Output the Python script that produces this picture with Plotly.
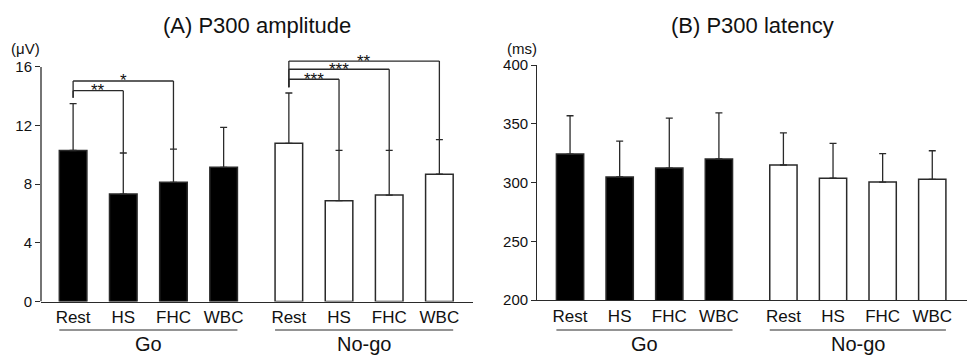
import plotly.graph_objects as go

# ---------------- data ----------------
conditions = ["Rest", "HS", "FHC", "WBC"]
groups = ["Go", "No-go"]

amp_go_mean = [10.3, 7.33, 8.13, 9.15]
amp_go_sd = [3.2, 2.8, 2.27, 2.73]
amp_nogo_mean = [10.79, 6.88, 7.26, 8.68]
amp_nogo_sd = [3.43, 3.43, 3.05, 2.36]

lat_go_mean = [324.2, 304.7, 312.3, 320.0]
lat_go_sd = [32.6, 30.5, 42.5, 39.3]
lat_nogo_mean = [314.9, 303.6, 300.4, 302.7]
lat_nogo_sd = [27.4, 29.7, 24.1, 24.3]

amp_ticks = [0, 4, 8, 12, 16]
lat_ticks = [200, 250, 300, 350, 400]

# significance brackets (amplitude panel)
sig_group = ["Go", "Go", "No-go", "No-go", "No-go"]
sig_from = ["Rest", "Rest", "Rest", "Rest", "Rest"]
sig_to = ["HS", "FHC", "HS", "FHC", "WBC"]
sig_label = ["**", "*", "***", "***", "**"]
sig_height = [14.38, 15.04, 15.16, 15.84, 16.4]

# ---------------- style ----------------
FONT = "Liberation Sans, Arial, sans-serif"
LINE = "#2a2a2a"
GROUP_GAP = 1.3
BAR_W = 0.55
W, H = 967, 356

n = len(conditions)


def pos(g, i):
    return i + g * (n - 1 + GROUP_GAP)


fig = go.Figure()

panels = [
    ("x", "y", [amp_go_mean, amp_nogo_mean], [amp_go_sd, amp_nogo_sd]),
    ("x2", "y2", [lat_go_mean, lat_nogo_mean], [lat_go_sd, lat_nogo_sd]),
]
fills = ["#000000", "#ffffff"]

for xa, ya, means, sds in panels:
    for g, grp in enumerate(groups):
        fig.add_trace(go.Bar(
            x=[pos(g, i) for i in range(n)],
            y=means[g],
            width=BAR_W,
            marker=dict(color=fills[g], line=dict(color=LINE, width=1.5)),
            error_y=dict(type="data", symmetric=False, array=sds[g],
                         arrayminus=[0] * n, color=LINE, thickness=1.3, width=3.5),
            xaxis=xa, yaxis=ya, showlegend=False, name=grp,
        ))

shapes = []
annotations = []

# significance brackets
for grp, a, b, lab, h in zip(sig_group, sig_from, sig_to, sig_label, sig_height):
    g = groups.index(grp)
    ia, ib = conditions.index(a), conditions.index(b)
    means = amp_go_mean if g == 0 else amp_nogo_mean
    sds = amp_go_sd if g == 0 else amp_nogo_sd
    xa_, xb_ = pos(g, ia), pos(g, ib)
    top_a = means[ia] + sds[ia] + 0.4
    top_b = means[ib] + sds[ib]
    shapes.append(dict(type="line", xref="x", yref="y", x0=xa_, x1=xb_, y0=h, y1=h,
                       line=dict(color=LINE, width=1.3)))
    shapes.append(dict(type="line", xref="x", yref="y", x0=xa_, x1=xa_, y0=top_a, y1=h,
                       line=dict(color=LINE, width=1.3)))
    shapes.append(dict(type="line", xref="x", yref="y", x0=xb_, x1=xb_, y0=top_b, y1=h,
                       line=dict(color=LINE, width=1.3)))
    annotations.append(dict(x=(xa_ + xb_) / 2, y=h, xref="x", yref="y", text=lab,
                            showarrow=False, xanchor="center", yanchor="middle", yshift=0,
                            font=dict(family=FONT, size=17, color="#111")))

# left y axis line (stops at top tick)
shapes.append(dict(type="line", xref="x domain", yref="y", x0=0, x1=0,
                   y0=amp_ticks[0], y1=amp_ticks[-1], line=dict(color=LINE, width=1.3)))

# group lines and labels
for xa in ["x", "x2"]:
    for g, grp in enumerate(groups):
        x0 = pos(g, 0) - BAR_W / 2
        x1 = pos(g, n - 1) + BAR_W / 2
        shapes.append(dict(type="line", xref=xa, yref="paper", x0=x0, x1=x1,
                           y0=(H - 330) / H, y1=(H - 330) / H,
                           line=dict(color=LINE, width=1.2)))
        annotations.append(dict(x=(x0 + x1) / 2, y=(H - 344) / H, xref=xa, yref="paper",
                                text=grp, showarrow=False, xanchor="center", yanchor="middle",
                                font=dict(family=FONT, size=20, color="#111")))

# titles and units
annotations += [
    dict(x=257 / W, y=(H - 25) / H, xref="paper", yref="paper", text="(A) P300 amplitude",
         showarrow=False, xanchor="center", yanchor="middle",
         font=dict(family=FONT, size=22, color="#111")),
    dict(x=752 / W, y=(H - 25) / H, xref="paper", yref="paper", text="(B) P300 latency",
         showarrow=False, xanchor="center", yanchor="middle",
         font=dict(family=FONT, size=22, color="#111")),
    dict(x=42 / W, y=(H - 48) / H, xref="paper", yref="paper", text="(μV)",
         showarrow=False, xanchor="right", yanchor="middle",
         font=dict(family=FONT, size=15, color="#111")),
    dict(x=539 / W, y=(H - 48) / H, xref="paper", yref="paper", text="(ms)",
         showarrow=False, xanchor="right", yanchor="middle",
         font=dict(family=FONT, size=15, color="#111")),
]

xt = [pos(g, i) for g in range(len(groups)) for i in range(n)]
xtext = conditions * len(groups)
xcommon = dict(showline=True, linecolor=LINE, linewidth=1.3, showgrid=False, zeroline=False,
               tickvals=xt, ticktext=xtext, ticks="", automargin=False,
               tickfont=dict(family=FONT, size=17, color="#111"), fixedrange=True)
ycommon = dict(showgrid=False, zeroline=False, ticks="outside", ticklen=5, tickwidth=1.3,
               tickcolor=LINE, automargin=False,
               tickfont=dict(family=FONT, size=15, color="#111"))

fig.update_layout(
    template="none",
    width=W, height=H, margin=dict(l=0, r=0, t=0, b=0, pad=0, autoexpand=False),
    paper_bgcolor="white", plot_bgcolor="white",
    barmode="overlay", showlegend=False,
    xaxis=dict(domain=[41 / W, 473 / W], range=[-0.64, 7.97], anchor="y", **xcommon),
    yaxis=dict(domain=[(H - 301.5) / H, (H - 55.2) / H], range=[0, 16.8], anchor="x",
               tickvals=amp_ticks, showline=False, **ycommon),
    xaxis2=dict(domain=[537.3 / W, 1.0], range=[-0.66, 8.0], anchor="y2", **xcommon),
    yaxis2=dict(domain=[(H - 300) / H, (H - 65) / H], range=[lat_ticks[0], lat_ticks[-1]],
                anchor="x2", tickvals=lat_ticks,
                showline=True, linecolor=LINE, linewidth=1.3, **ycommon),
    shapes=shapes, annotations=annotations,
)

fig.write_html("out.html")
